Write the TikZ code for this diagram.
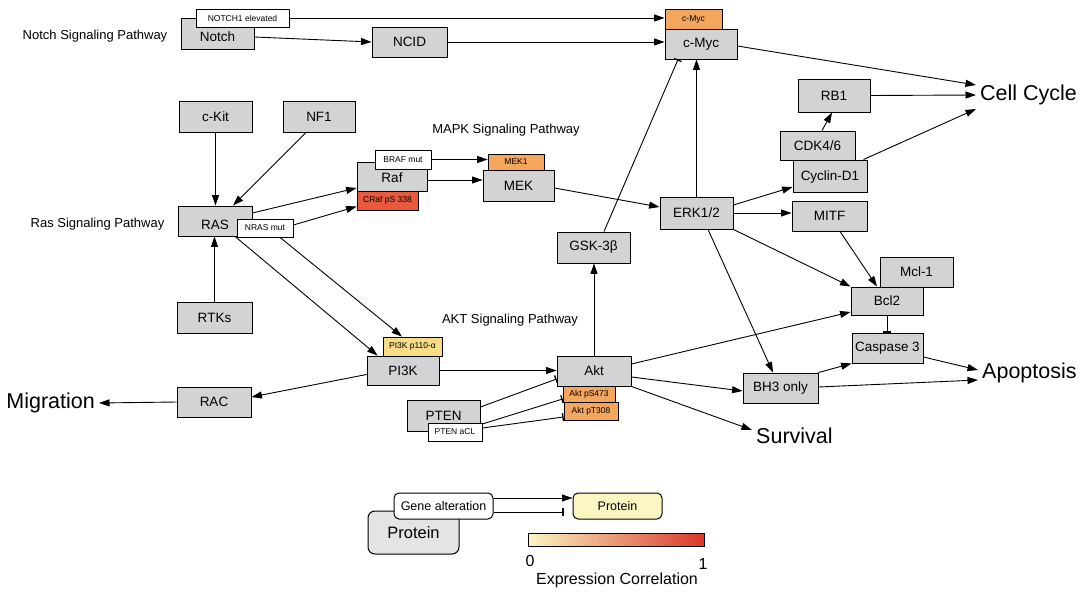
\documentclass[tikz,border=0pt]{standalone}
\usepackage{fontspec}
\setmainfont{Liberation Sans}
\usetikzlibrary{arrows.meta,calc}
\definecolor{boxgrey}{HTML}{D1D3D4}
\definecolor{legrey}{HTML}{E4E4E4}
\definecolor{orng}{HTML}{F4A65C}
\definecolor{redorng}{HTML}{E95A3C}
\definecolor{yel}{HTML}{F8DC86}
\definecolor{paleyel}{HTML}{FBF6C2}
\definecolor{gradmid}{HTML}{F6A95F}
\definecolor{gradend}{HTML}{D9382B}
\newcommand{\lowertxt}[2]{\raisebox{-#1}[\height][\depth]{#2}}
\tikzset{
  box/.style={draw=black, fill=boxgrey, line width=0.9pt, inner sep=0pt, font=\fontsize{13.5}{15}\selectfont},
  tag/.style={draw=black, fill=white, line width=0.8pt, inner sep=0pt, font=\fontsize{8.5}{10}\selectfont},
  sz/.style 2 args={minimum width=#1pt, minimum height=#2pt},
  arr/.style={-{Triangle[length=10.5pt,width=7pt]}, line width=0.9pt},
  inh/.style={-{Bar[width=8pt,line width=1.3pt]}, line width=0.9pt},
  outcome/.style={inner sep=4pt, font=\fontsize{21.5}{24}\selectfont},
  pwlabel/.style={inner sep=0pt, font=\fontsize{13}{15}\selectfont},
}
\begin{document}
\begin{tikzpicture}[x=1pt,y=-1pt]
\useasboundingbox (0,0) rectangle (1088,594);
% pathway labels
\node[pwlabel] (lnotch) at (95,36) {Notch Signaling Pathway};
\node[pwlabel] (lras) at (97.5,224) {Ras Signaling Pathway};
\node[pwlabel] (lmapk) at (506,130) {MAPK Signaling Pathway};
\node[pwlabel] (lakt) at (510,320) {AKT Signaling Pathway};
% outcomes
\node[outcome, anchor=west] (cc) at (976,95) {Cell Cycle};
\node[outcome, anchor=west] (apo) at (978,373) {Apoptosis};
\node[outcome, anchor=west] (surv) at (752,436) {Survival};
\node[outcome, anchor=east] (mig) at (99,403) {Migration};
% nodes
\node[box, sz={73}{31}] (notch) at (217.5,33.5) {\lowertxt{3.5pt}{Notch}};
\node[tag, sz={93}{18}] (notch1) at (242.5,18) {NOTCH1 elevated};
\node[box, sz={75}{30}] (ncid) at (409.5,42) {NCID};
\node[box, sz={72}{30}] (cmyc) at (701,44) {c-Myc};
\node[tag, fill=orng, sz={57}{20}] (cmycs) at (693.5,19) {c-Myc};
\node[box, sz={73}{31}] (ckit) at (215.5,116.5) {c-Kit};
\node[box, sz={72}{31}] (nf1) at (319,116.5) {NF1};
\node[box, sz={74}{30}] (ras) at (215,221) {\lowertxt{4pt}{RAS}};
\node[tag, sz={56}{18}] (nras) at (265,228) {NRAS mut};
\node[box, sz={75}{31}] (rtks) at (214.5,317.5) {RTKs};
\node[box, sz={70}{29}] (raf) at (392,176.5) {\lowertxt{1.5pt}{Raf}};
\node[tag, sz={56}{19}] (braf) at (403,159.5) {BRAF mut};
\node[tag, fill=redorng, sz={61}{19}] (craf) at (387.5,200.5) {CRaf pS 338};
\node[box, sz={71}{31}] (mek) at (518.5,185.5) {MEK};
\node[tag, fill=orng, sz={56}{16}] (mek1) at (516,162) {MEK1};
\node[box, sz={73}{32}] (erk) at (696.5,213) {ERK1/2};
\node[box, sz={73}{31}] (gsk) at (593.5,247.5) {GSK-3β};
\node[box, sz={72}{33}] (rb1) at (834,95.5) {RB1};
\node[box, sz={75}{29}] (cdk) at (817.5,145.5) {CDK4/6};
\node[box, sz={74}{32}] (cyclin) at (830,176) {\lowertxt{1.5pt}{Cyclin-D1}};
\node[box, sz={75}{30}] (mitf) at (829.5,216) {MITF};
\node[box, sz={73}{30}] (mcl) at (916.5,272) {Mcl-1};
\node[box, sz={72}{28}] (bcl2) at (887,301) {Bcl2};
\node[box, sz={71}{30}] (casp) at (887.5,348) {Caspase 3};
\node[box, sz={75}{30}] (bh3) at (780.5,388) {BH3 only};
\node[box, sz={72}{29}] (pi3k) at (403,370.5) {PI3K};
\node[tag, fill=yel, sz={59}{19}] (p110) at (412.5,346.5) {PI3K p110-α};
\node[box, sz={74}{30}] (akt) at (594,371) {Akt};
\node[tag, fill=orng, sz={52}{16}] (aktps) at (589,394) {Akt pS473};
\node[tag, fill=orng, sz={54}{18}] (aktpt) at (591,411) {Akt pT308};
\node[box, sz={73}{31}] (pten) at (443.5,415.5) {PTEN};
\node[tag, sz={54}{18}] (ptenacl) at (455,432) {PTEN aCL};
\node[box, sz={74}{30}] (rac) at (214,402) {RAC};
% connectors
\draw[arr] (notch1.east) -- (notch1.east -| cmycs.west);
\draw[arr] ([yshift=-3.5pt]notch.east) -- (ncid.west);
\draw[arr] (ncid.east) -- (ncid.east -| cmyc.west);
\draw[arr] ([yshift=-2pt]cmyc.east) -- ([yshift=10pt]cc.west);
\draw[arr] (ckit.south) -- (ckit.south |- ras.north);
\draw[arr] ([xshift=-13pt]nf1.south) -- ([xshift=18pt]ras.north);
\draw[arr] (rtks.north) -- (rtks.north |- ras.south);
\draw[arr] ([yshift=8pt]ras.east) -- ([yshift=-11.5pt]raf.west);
\draw[arr] ([yshift=3pt]nras.east) -- ([yshift=-6pt]craf.west);
\draw[arr] ([xshift=20pt]ras.south) -- ([xshift=11pt]pi3k.north west);
\draw[arr] ([xshift=15pt]nras.south) -- ([xshift=-10.5pt]p110.north);
\draw[arr] (braf.east) -- (braf.east -| mek1.west);
\draw[arr] ([yshift=-3.5pt]raf.east) -- ([yshift=-3.5pt]raf.east -| mek.west);
\draw[arr] ([yshift=-2.5pt]mek.east) -- ([yshift=6pt]erk.west);
\draw[arr] (erk.north) -- (erk.north |- cmyc.south);
\draw[inh] ([xshift=10.5pt]gsk.north) -- ([xshift=-23pt]cmyc.south);
\draw[arr] (akt.north) -- (akt.north |- gsk.south);
\draw[arr] ([yshift=8pt]erk.east) -- ([yshift=-11pt]cyclin.west);
\draw[arr] (erk.east) -- (erk.east -| mitf.west);
\draw[arr] ([xshift=4.5pt]cdk.north) -- ([xshift=-2pt]rb1.south);
\draw[arr] (rb1.east) -- (cc.west);
\draw[arr] ([xshift=-4pt]cyclin.north east) -- ([yshift=-14pt]cc.west);
\draw[arr] ([xshift=10.5pt]mitf.south) -- ([xshift=-10pt]bcl2.north);
\draw[arr] (erk.south east) -- (bcl2.north west);
\draw[arr] ([yshift=7pt]akt.east) -- ([yshift=-11pt]bcl2.west);
\draw[inh] (bcl2.south) -- (bcl2.south |- casp.north);
\draw[arr] ([xshift=11.5pt]erk.south) -- ([xshift=-7.5pt]bh3.north);
\draw[arr] (bh3.north east) -- (casp.south west);
\draw[arr] ([yshift=1pt]bh3.east) -- ([yshift=-7pt]apo.west);
\draw[arr] ([yshift=-9pt]casp.east) -- ([yshift=3pt]apo.west);
\draw[arr] ([yshift=-6pt]akt.east) -- ([yshift=-3pt]bh3.west);
\draw[arr] (akt.south east) -- ([yshift=6pt]surv.west);
\draw[arr] (pi3k.east) -- (pi3k.east -| akt.west);
\draw[arr] ([yshift=-4pt]pi3k.west) -- ([yshift=5pt]rac.east);
\draw[arr] (rac.west) -- (mig.east);
\draw[inh] ([yshift=8.5pt]pten.east) -- ([yshift=-8pt]akt.west);
\draw[inh] ([yshift=8pt]ptenacl.east) -- ([yshift=-5pt]aktps.west);
\draw[inh] ([yshift=4pt]ptenacl.east) -- ([yshift=-6pt]aktpt.west);
% legend
\node[draw=black, fill=legrey, line width=1pt, rounded corners=7pt, inner sep=0pt, sz={91}{43}, font=\fontsize{16.5}{19}\selectfont] (lprot) at (413.5,532.5) {Protein};
\node[draw=black, fill=white, line width=1pt, rounded corners=5pt, inner sep=0pt, sz={99}{26}, font=\fontsize{12.5}{15}\selectfont] (lgene) at (443.5,506) {Gene alteration};
\node[draw=black, fill=paleyel, line width=1pt, rounded corners=5pt, inner sep=0pt, sz={89}{26}, font=\fontsize{12.5}{15}\selectfont] (lprotY) at (617.5,506) {Protein};
\draw[arr] ([yshift=8pt]lgene.east) -- ([yshift=8pt]lgene.east -| lprotY.west);
\coordinate (tend) at ($(lprotY.west)+(-9,6)$);
\draw[inh] ([yshift=-6pt]lgene.east) -- (tend);
\node[draw=black, line width=1pt, inner sep=0pt, sz={176}{13}, left color=paleyel, middle color=gradmid, right color=gradend] (cbar) at (616,539.5) {};
\node[inner sep=0pt, font=\fontsize{16}{18}\selectfont] (l0) at (530,561) {0};
\node[inner sep=0pt, font=\fontsize{16}{18}\selectfont] (l1) at (703,564) {1};
\node[inner sep=0pt, font=\fontsize{16}{18}\selectfont] (lexp) at (617,580) {Expression Correlation};
\end{tikzpicture}
\end{document}
